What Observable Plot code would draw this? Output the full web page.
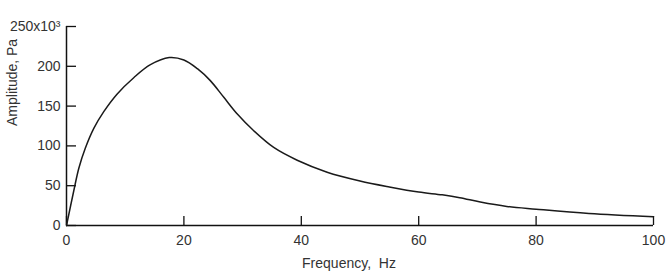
<!DOCTYPE html>
<html>
<head>
<meta charset="utf-8">
<script src="https://cdn.jsdelivr.net/npm/d3@7"></script>
<script src="https://cdn.jsdelivr.net/npm/@observablehq/plot@0.6"></script>
<style>
  body { margin: 0; background: #fff; }
  #chart svg { display: block; }
</style>
</head>
<body>
<div id="chart"></div>
<script>
// Frequency (Hz)
const freq = [0, 1.25, 2.1, 3.2, 4.65, 6.35, 8.6, 11.5, 14.3, 17.5, 20, 22.3, 24.5, 26.8, 29.1, 31.9, 35.3, 39.3, 44.4, 50, 55, 60, 64, 67, 70.5, 75, 80, 89, 100];
// Amplitude (Pa)
const amp = [0, 44000, 72000, 97000, 122000, 143000, 165000, 186000, 202000, 211000, 208000, 197000, 182000, 161000, 140000, 119000, 98000, 82000, 67000, 56000, 48500, 42000, 38500, 35000, 29500, 24000, 20500, 15000, 11000];
const xTicks = [0, 20, 40, 60, 80, 100];
const yTicks = [0, 50000, 100000, 150000, 200000, 250000];
const xLabel = "Frequency,\u00A0 Hz";
const yLabel = "Amplitude, Pa";

const data = freq.map((f, i) => ({f, a: amp[i]}));
const font = "Liberation Sans, Arial, sans-serif";
const yFmt = d => d === 250000 ? "250x10\u00B3" : String(d / 1000);

const W = 669, H = 280, mL = 66, mR = 16, mT = 26, mB = 55;
const frameW = W - mL - mR, frameH = H - mT - mB;

const chart = Plot.plot({
  width: W,
  height: H,
  marginLeft: mL,
  marginRight: mR,
  marginTop: mT,
  marginBottom: mB,
  style: {fontFamily: font, fontSize: "14px", color: "#333", background: "#fff"},
  x: {domain: [0, 100]},
  y: {domain: [0, 250000]},
  marks: [
    // inward-pointing ticks
    Plot.tickX(xTicks, {x: d => d, insetTop: frameH - 9, stroke: "#111", strokeWidth: 1.3}),
    Plot.tickY(yTicks, {y: d => d, insetRight: frameW - 10, stroke: "#111", strokeWidth: 1.3}),
    // tick labels
    Plot.axisX(xTicks, {tickSize: 0, tickPadding: 10, fill: "#333", tickFormat: d => String(d), label: null}),
    Plot.axisY(yTicks, {tickSize: 0, tickPadding: 6, fill: "#333", tickFormat: yFmt, label: null}),
    Plot.ruleY([0], {stroke: "#111", strokeWidth: 1.5}),
    Plot.ruleX([0], {stroke: "#111", strokeWidth: 1.5}),
    Plot.line(data, {x: "f", y: "a", curve: "catmull-rom", stroke: "#1a1a1a", strokeWidth: 1.5}),
    Plot.text([xLabel], {frameAnchor: "bottom", dy: 42, dx: -11, fill: "#333", fontSize: 14}),
    Plot.text([yLabel], {frameAnchor: "left", rotate: -90, dx: -54, fill: "#333", fontSize: 14})
  ]
});
document.getElementById("chart").append(chart);
</script>
</body>
</html>
